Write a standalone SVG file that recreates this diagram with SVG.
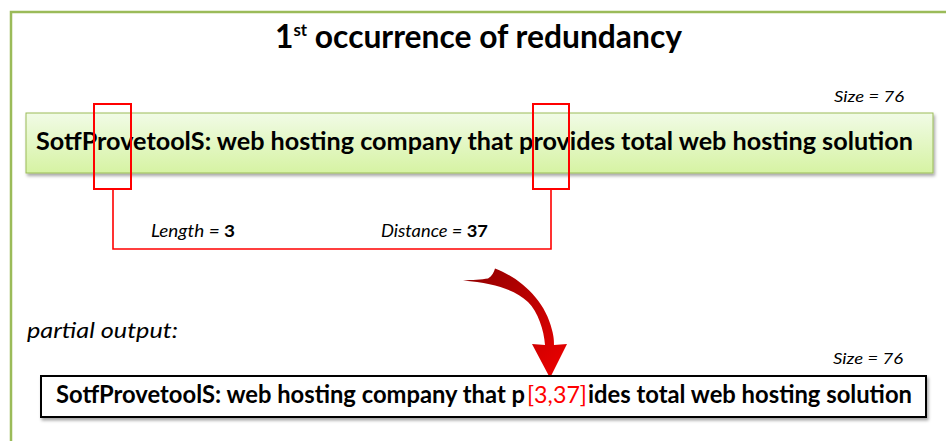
<svg xmlns="http://www.w3.org/2000/svg" width="946" height="441" viewBox="0 0 946 441">
<style>
.t{font-family:Lato,"Open Sans","Liberation Sans",sans-serif;fill:#000}
.b{font-weight:bold}
.i{font-style:italic}
.red{fill:#FF0000;font-weight:normal}
.hl{fill:none;stroke:#FF0000;stroke-width:2}
</style>
<defs>
<linearGradient id="gfill" x1="0" y1="0" x2="0" y2="1">
<stop offset="0" stop-color="#F1FBE6"/>
<stop offset="1" stop-color="#D6F3A3"/>
</linearGradient>
<linearGradient id="agrad" x1="0" y1="0" x2="1" y2="1">
<stop offset="0" stop-color="#8E0000"/>
<stop offset="1" stop-color="#F00000"/>
</linearGradient>
<filter id="sh" x="-5%" y="-20%" width="110%" height="150%">
<feDropShadow dx="1.5" dy="2.5" stdDeviation="1.5" flood-color="#000" flood-opacity="0.35"/>
</filter>
</defs>
<rect width="946" height="441" fill="#fff"/>
<g id="frame">
<path d="M11,441 V12 H946" fill="none" stroke="#9BBB59" stroke-width="2.5"/>
</g>
<g id="title">
<text class="t b" x="275" y="48" font-size="32" textLength="407" lengthAdjust="spacingAndGlyphs">1<tspan baseline-shift="12" font-size="17">st</tspan> occurrence of redundancy</text>
</g>
<g id="size-top">
<text class="t i" x="834" y="102" font-size="16" textLength="70" lengthAdjust="spacingAndGlyphs">Size = 76</text>
</g>
<g id="input-box">
<rect x="26" y="113" width="907" height="60" fill="url(#gfill)" stroke="#9BBB59" stroke-width="1" filter="url(#sh)"/>
<text class="t b" x="36" y="150" font-size="24" textLength="877" lengthAdjust="spacingAndGlyphs">SotfProvetoolS: web hosting company that provides total web hosting solution</text>
</g>
<g id="match-1">
<rect class="hl" x="94" y="104" width="37" height="85"/>
</g>
<g id="match-2">
<rect class="hl" x="533" y="104" width="36" height="85"/>
</g>
<g id="connectors">
<path d="M113,189 V249 H551 V189" fill="none" stroke="#FF0000" stroke-width="1.6"/>
<path d="M463,280.5 C472,280 482,279.5 488,278.5 C492,276 494,272 495,268.5 C520,278 545,300 552,330 C554,337 554,342 554,345 L567,344 L550,378 L532,344 L545,345 C544,330 538,312 528,302 C515,290 495,283 463,280.5 Z" fill="url(#agrad)"/>
</g>
<g id="label-length">
<text class="t i" x="151" y="237" font-size="17.5" textLength="84" lengthAdjust="spacingAndGlyphs"><tspan>Length = </tspan><tspan class="b" font-style="normal">3</tspan></text>
</g>
<g id="label-distance">
<text class="t i" x="381" y="237" font-size="17.5" textLength="107" lengthAdjust="spacingAndGlyphs"><tspan>Distance = </tspan><tspan class="b" font-style="normal">37</tspan></text>
</g>
<g id="partial-label">
<text class="t i" x="27" y="338" font-size="21" textLength="151" lengthAdjust="spacingAndGlyphs">partial output:</text>
</g>
<g id="size-bottom">
<text class="t i" x="833" y="364" font-size="16" textLength="70" lengthAdjust="spacingAndGlyphs">Size = 76</text>
</g>
<g id="output-box">
<rect x="41" y="376" width="885" height="41" fill="#fff" stroke="#000" stroke-width="2" filter="url(#sh)"/>
<text class="t b" x="56" y="403" font-size="24" textLength="469" lengthAdjust="spacingAndGlyphs">SotfProvetoolS: web hosting company that p</text>
<text class="t red" x="527" y="403" font-size="24" textLength="60" lengthAdjust="spacingAndGlyphs">[3,37]</text>
<text class="t b" x="588" y="403" font-size="24" textLength="324" lengthAdjust="spacingAndGlyphs">ides total web hosting solution</text>
</g>
</svg>
